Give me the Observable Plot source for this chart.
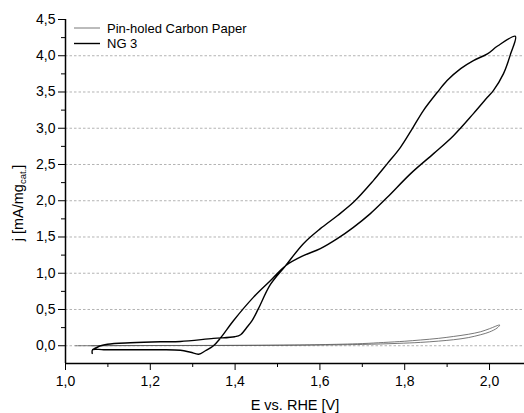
<!DOCTYPE html>
<html><head><meta charset="utf-8">
<script src="https://cdn.jsdelivr.net/npm/d3@7"></script>
<script src="https://cdn.jsdelivr.net/npm/@observablehq/plot@0.6"></script>
<style>
body{margin:0;background:#fff}
svg{font-family:"Liberation Sans",Arial,sans-serif}
</style>
</head><body><div id="chart"></div>
<script>
// NG 3 cyclic voltammogram (one closed loop, in scan order)
const ng3E = [1.063,1.064,1.090,1.153,1.224,1.271,1.295,1.314,1.330,1.349,1.366,1.396,1.443,1.483,1.519,1.561,1.601,1.641,1.679,1.719,1.759,1.814,1.868,1.915,1.962,1.995,2.009,2.033,2.050,2.061,2.019,1.995,1.962,1.932,1.900,1.877,1.844,1.818,1.790,1.759,1.726,1.679,1.641,1.601,1.561,1.519,1.483,1.455,1.440,1.427,1.413,1.399,1.349,1.271,1.224,1.153,1.099,1.083,1.064];
const ng3J = [-0.106,-0.055,-0.055,-0.055,-0.055,-0.062,-0.090,-0.117,-0.069,0.000,0.110,0.345,0.667,0.897,1.104,1.242,1.339,1.477,1.633,1.822,2.047,2.374,2.650,2.898,3.202,3.427,3.520,3.754,4.030,4.269,4.134,4.026,3.934,3.823,3.658,3.496,3.244,2.995,2.737,2.512,2.278,1.978,1.794,1.615,1.408,1.104,0.842,0.511,0.345,0.248,0.152,0.124,0.101,0.059,0.055,0.041,0.021,0.000,-0.055];
// Pin-holed carbon paper
const cpE = [1.024,1.200,1.400,1.600,1.700,1.782,1.837,1.880,1.915,1.950,1.979,2.000,2.018,2.024,2.000,1.979,1.950,1.915,1.880,1.837,1.800,1.750,1.700,1.600,1.500,1.300,1.100,1.060];
const cpJ = [0.000,0.002,0.004,0.010,0.018,0.032,0.046,0.064,0.083,0.112,0.152,0.190,0.245,0.286,0.235,0.193,0.158,0.128,0.102,0.079,0.062,0.045,0.030,0.015,0.008,0.004,0.002,0.000];

const seriesNames = ["Pin-holed Carbon Paper", "NG 3"];
const xTicks = [1.0, 1.2, 1.4, 1.6, 1.8, 2.0];
const xMinor = [1.1, 1.3, 1.5, 1.7, 1.9];
const yTicks = [0, 0.5, 1.0, 1.5, 2.0, 2.5, 3.0, 3.5, 4.0, 4.5];
const yMinor = [0.25, 0.75, 1.25, 1.75, 2.25, 2.75, 3.25, 3.75, 4.25];
const gridY = [0, 0.5, 1.0, 1.5, 2.0, 2.5, 3.0, 3.5, 4.0];
const xLabel = "E vs. RHE [V]";
const yLabelMain = "j [mA/mg", yLabelSub = "cat.", yLabelEnd = "]";

const ng3 = ng3E.map((e, i) => ({E: e, j: ng3J[i]}));
const cp = cpE.map((e, i) => ({E: e, j: cpJ[i]}));
const fmt = d => d.toFixed(1).replace(".", ",");
const yMin = -0.245;

const plot = Plot.plot({
  width: 524, height: 413,
  marginLeft: 65, marginRight: 0, marginTop: 19, marginBottom: 50,
  x: {domain: [1.0, 2.0825]},
  y: {domain: [yMin, 4.5]},
  style: {fontFamily: '"Liberation Sans", Arial, sans-serif', fontSize: "14px", color: "black", background: "white"},
  marks: [
    Plot.ruleY(gridY, {stroke: "#b4b4b4", strokeDasharray: "2.5,2", strokeWidth: 1}),
    Plot.line(cp, {x: "E", y: "j", stroke: "#555", strokeWidth: 0.8, curve: "catmull-rom"}),
    Plot.line(ng3, {x: "E", y: "j", stroke: "black", strokeWidth: 1.4, curve: "catmull-rom"}),
    Plot.axisX({ticks: xTicks, tickSize: 7, tickPadding: 6, tickFormat: fmt, label: null, fontSize: 14}),
    Plot.axisX({ticks: xMinor, tickSize: 4, tickFormat: () => "", label: null}),
    Plot.axisY({ticks: yTicks, tickSize: 7, tickPadding: 3, tickFormat: fmt, label: null, fontSize: 14}),
    Plot.axisY({ticks: yMinor, tickSize: 4, tickFormat: () => "", label: null}),
    Plot.ruleX([1.0], {stroke: "black", strokeWidth: 1.5}),
    Plot.ruleY([yMin], {stroke: "black", strokeWidth: 1.5})
  ]
});
document.getElementById("chart").appendChild(plot);

const svg = d3.select(plot);
// legend
const legendStyles = [{stroke: "#555", w: 0.8}, {stroke: "black", w: 1.4}];
seriesNames.forEach((name, i) => {
  const yy = 28 + i * 15.5;
  svg.append("line").attr("x1", 74).attr("x2", 100).attr("y1", yy).attr("y2", yy)
    .attr("stroke", legendStyles[i].stroke).attr("stroke-width", legendStyles[i].w);
  svg.append("text").attr("x", 107).attr("y", yy).attr("dy", "0.35em")
    .attr("text-anchor", "start").style("font-size", "13px").attr("fill", "black").text(name);
});
// axis labels
svg.append("text").attr("x", 295).attr("y", 410).attr("text-anchor", "middle")
  .style("font-size", "14.5px").attr("fill", "black").text(xLabel);
const yl = svg.append("text").attr("transform", "translate(23,203) rotate(-90)")
  .attr("text-anchor", "middle").style("font-size", "14.5px").attr("fill", "black");
yl.append("tspan").text(yLabelMain);
yl.append("tspan").style("font-size", "9.5px").attr("dy", 3).text(yLabelSub);
yl.append("tspan").attr("dy", -3).text(yLabelEnd);
</script>
</body></html>
